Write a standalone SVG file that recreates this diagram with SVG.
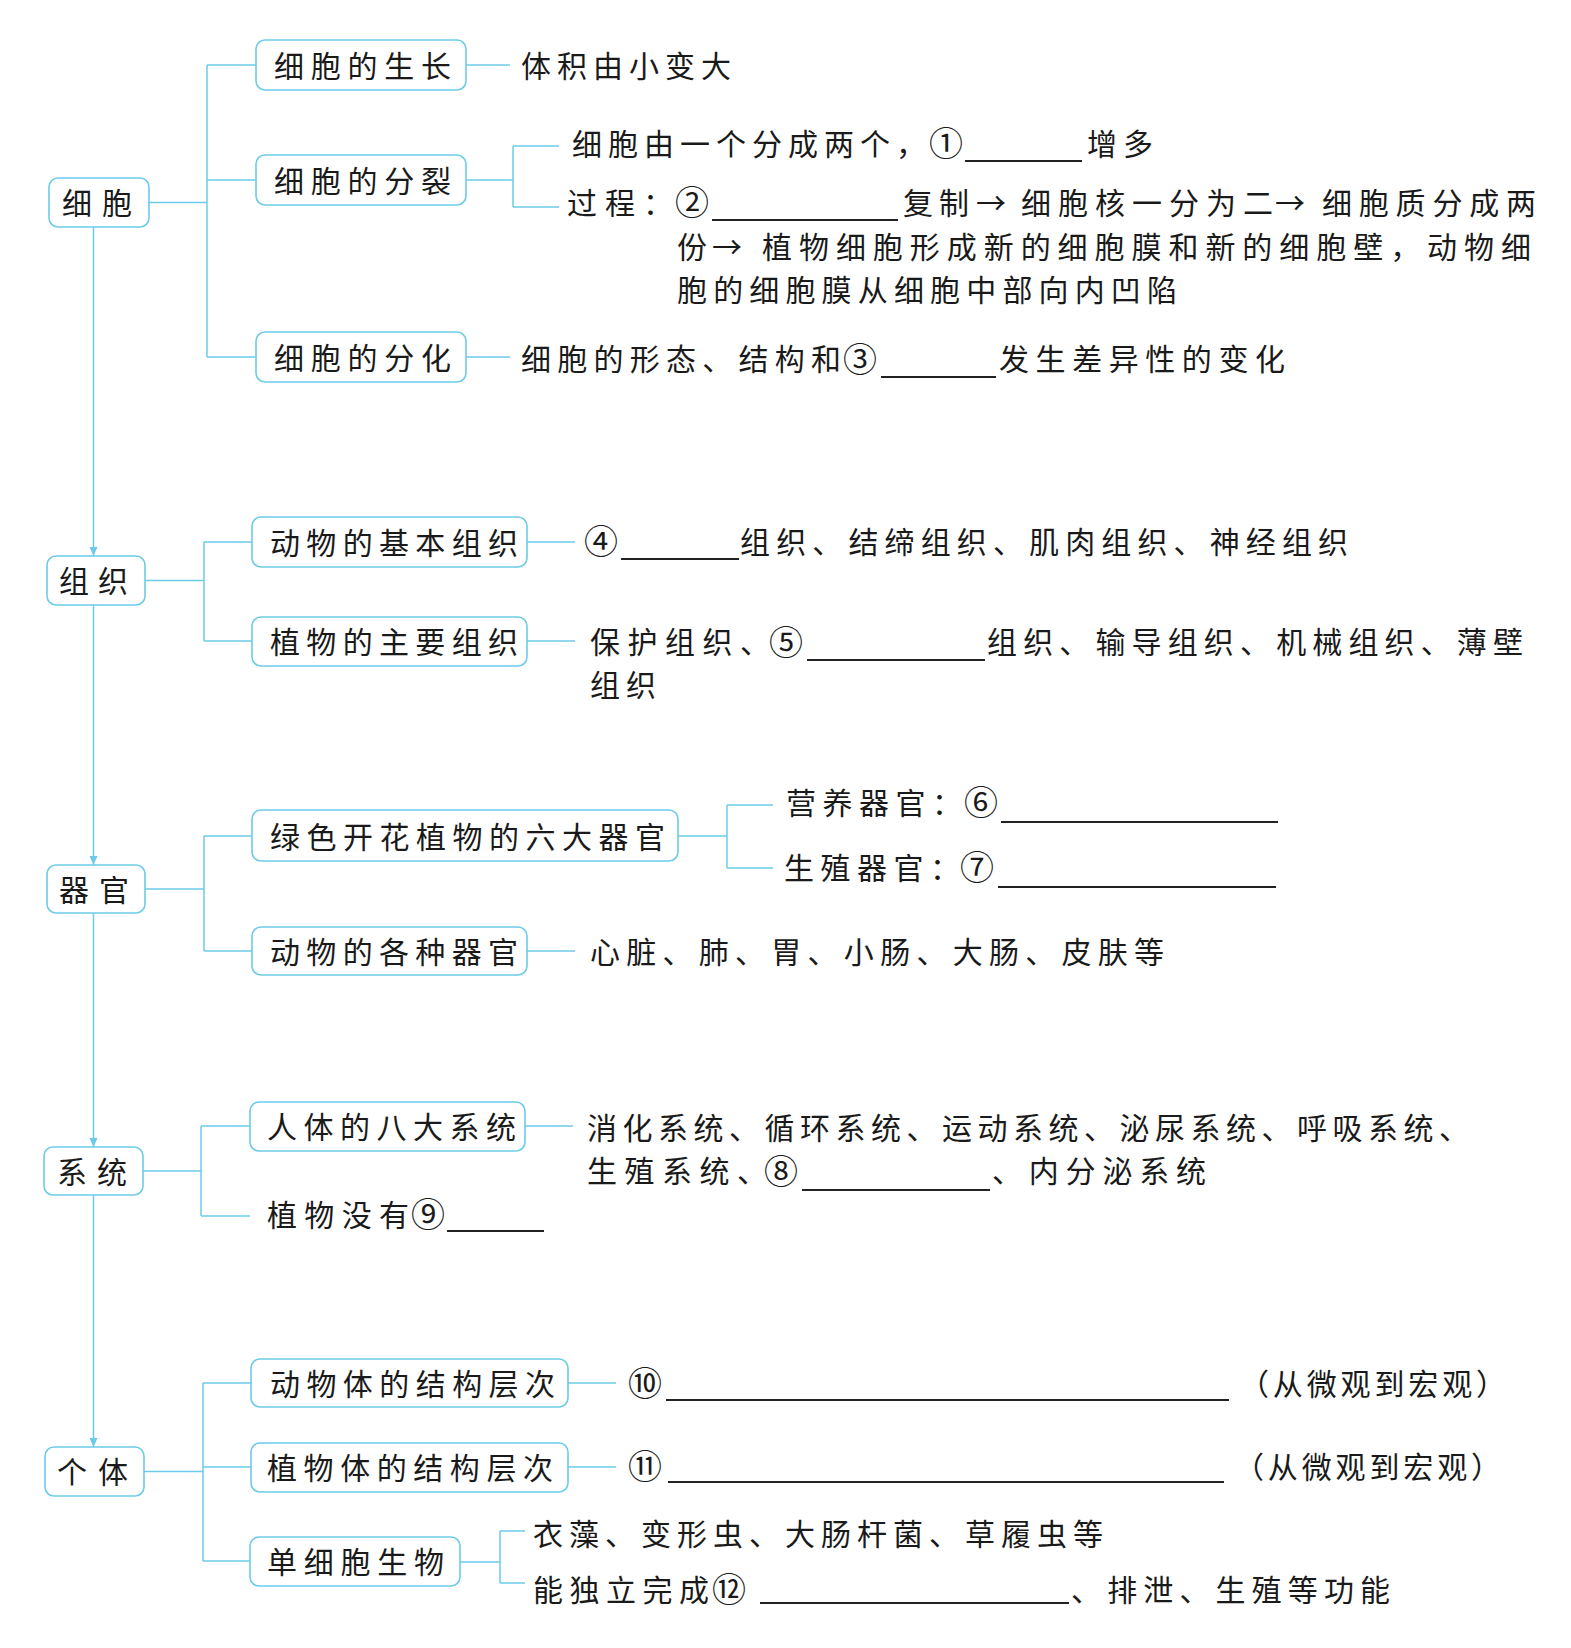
<svg xmlns="http://www.w3.org/2000/svg" width="1571" height="1648" viewBox="0 0 1571 1648">
<defs>
<style>
.box{fill:#fff;stroke:#6ccbe9;stroke-width:1.6}
.ln{fill:none;stroke:#6ccbe9;stroke-width:1.5}
.t{font-family:"Noto Sans CJK SC","Noto Sans CJK TC",sans-serif;font-size:30px;fill:#1a1a1a}
.c{font-size:34px}
.u{stroke:#222;stroke-width:1.8}
</style>
<marker id="arr" markerUnits="userSpaceOnUse" markerWidth="10" markerHeight="10" refX="9" refY="5" orient="auto">
<path d="M0,1 L9,5 L0,9 z" fill="#6ccbe9"/>
</marker>
</defs>
<rect width="1571" height="1648" fill="#fff"/>

<g id="connectors">
<line class="ln" x1="93.5" y1="227" x2="93.5" y2="556" marker-end="url(#arr)"/>
<line class="ln" x1="93.5" y1="605" x2="93.5" y2="865" marker-end="url(#arr)"/>
<line class="ln" x1="93.5" y1="913" x2="93.5" y2="1147" marker-end="url(#arr)"/>
<line class="ln" x1="93.5" y1="1195" x2="93.5" y2="1447" marker-end="url(#arr)"/>
<path class="ln" d="M149,202.5 H207 M207,65 V357 M207,65 H256 M207,180 H256 M207,357 H256"/>
<path class="ln" d="M466,65 H510"/>
<path class="ln" d="M466,180 H513 M513,146 V207 M513,146 H559 M513,207 H559"/>
<path class="ln" d="M466,357 H510"/>
<path class="ln" d="M145,580.5 H204 M204,542 V641 M204,542 H252 M204,641 H252"/>
<path class="ln" d="M527,542 H575"/>
<path class="ln" d="M527,641 H575"/>
<path class="ln" d="M145,889 H204 M204,836 V951 M204,836 H252 M204,951 H252"/>
<path class="ln" d="M678,836 H727 M727,805 V868 M727,805 H773 M727,868 H773"/>
<path class="ln" d="M527,951 H575"/>
<path class="ln" d="M143,1171 H201 M201,1126 V1216 M201,1126 H250 M201,1216 H250"/>
<path class="ln" d="M525,1126 H573"/>
<path class="ln" d="M144,1471.5 H203 M203,1383 V1561 M203,1383 H251 M203,1467 H251 M203,1561 H250"/>
<path class="ln" d="M568,1383 H616"/>
<path class="ln" d="M568,1467 H616"/>
<path class="ln" d="M460,1562 H500 M500,1531 V1583 M500,1531 H525 M500,1583 H525"/>
</g>

<g id="n-cell"><rect class="box" x="49" y="178" width="100" height="49" rx="9"/><text class="t" x="62" y="214" textLength="70">细胞</text></g>
<g id="n-tissue"><rect class="box" x="47" y="556" width="98" height="49" rx="9"/><text class="t" x="59" y="592" textLength="69">组织</text></g>
<g id="n-organ"><rect class="box" x="47" y="865" width="98" height="48" rx="9"/><text class="t" x="59" y="901" textLength="70">器官</text></g>
<g id="n-system"><rect class="box" x="44" y="1147" width="99" height="48" rx="9"/><text class="t" x="57" y="1183" textLength="70">系统</text></g>
<g id="n-individual"><rect class="box" x="45" y="1447" width="99" height="49" rx="9"/><text class="t" x="57" y="1483" textLength="71">个体</text></g>

<g id="n-growth"><rect class="box" x="256" y="40" width="210" height="50" rx="9"/><text class="t" x="274" y="76.5" textLength="177">细胞的生长</text></g>
<g id="n-division"><rect class="box" x="256" y="155" width="210" height="50" rx="9"/><text class="t" x="274" y="191.5" textLength="177">细胞的分裂</text></g>
<g id="n-differentiation"><rect class="box" x="256" y="332" width="210" height="50" rx="9"/><text class="t" x="274" y="368.5" textLength="177">细胞的分化</text></g>

<g id="l-growth"><text class="t" x="521" y="76.5" textLength="210">体积由小变大</text></g>
<g id="l-division-1">
<text class="t" x="572" y="154.5" textLength="354">细胞由一个分成两个，</text>
<text class="t c" x="929" y="156">①</text>
<line class="u" x1="965" y1="161" x2="1082" y2="161"/>
<text class="t" x="1087" y="154.5" textLength="66">增多</text>
</g>
<g id="l-division-2">
<text class="t" x="567" y="213.5" textLength="106">过程：</text>
<text class="t c" x="675" y="215">②</text>
<line class="u" x1="712" y1="220" x2="898" y2="220"/>
<text class="t" x="903" y="213.5" textLength="66">复制</text>
<text class="t" x="976" y="213.5">→</text>
<text class="t" x="1021" y="213.5" textLength="252">细胞核一分为二</text>
<text class="t" x="1275" y="213.5">→</text>
<text class="t" x="1322" y="213.5" textLength="214">细胞质分成两</text>
<text class="t" x="677" y="258" textLength="30">份</text>
<text class="t" x="712" y="258">→</text>
<text class="t" x="762" y="258" textLength="769">植物细胞形成新的细胞膜和新的细胞壁，动物细</text>
<text class="t" x="677" y="301" textLength="500">胞的细胞膜从细胞中部向内凹陷</text>
</g>
<g id="l-differentiation">
<text class="t" x="521" y="370" textLength="320">细胞的形态、结构和</text>
<text class="t c" x="843" y="371.5">③</text>
<line class="u" x1="881" y1="377" x2="996" y2="377"/>
<text class="t" x="999" y="370" textLength="286">发生差异性的变化</text>
</g>

<g id="n-animal-tissue"><rect class="box" x="252" y="517" width="275" height="50" rx="9"/><text class="t" x="270" y="553.5" textLength="248">动物的基本组织</text></g>
<g id="n-plant-tissue"><rect class="box" x="252" y="617" width="275" height="49" rx="9"/><text class="t" x="270" y="653" textLength="248">植物的主要组织</text></g>
<g id="l-animal-tissue">
<text class="t c" x="584" y="553.5">④</text>
<line class="u" x1="621" y1="559" x2="739" y2="559"/>
<text class="t" x="740" y="552.5" textLength="608">组织、结缔组织、肌肉组织、神经组织</text>
</g>
<g id="l-plant-tissue">
<text class="t" x="590" y="653" textLength="180">保护组织、</text>
<text class="t c" x="769" y="654.5">⑤</text>
<line class="u" x1="807" y1="660" x2="985" y2="660"/>
<text class="t" x="987" y="653" textLength="536">组织、输导组织、机械组织、薄壁</text>
<text class="t" x="590" y="696" textLength="66">组织</text>
</g>

<g id="n-plant-organ"><rect class="box" x="252" y="810" width="426" height="51" rx="9"/><text class="t" x="270" y="847.5" textLength="395">绿色开花植物的六大器官</text></g>
<g id="n-animal-organ"><rect class="box" x="252" y="927" width="275" height="48" rx="9"/><text class="t" x="270" y="962.5" textLength="248">动物的各种器官</text></g>
<g id="l-vegetative">
<text class="t" x="786" y="813.5" textLength="176">营养器官：</text>
<text class="t c" x="964" y="815">⑥</text>
<line class="u" x1="1001" y1="822" x2="1278" y2="822"/>
</g>
<g id="l-reproductive">
<text class="t" x="784" y="878.5" textLength="176">生殖器官：</text>
<text class="t c" x="960" y="880">⑦</text>
<line class="u" x1="998" y1="887" x2="1276" y2="887"/>
</g>
<g id="l-animal-organ"><text class="t" x="590" y="962.5" textLength="574">心脏、肺、胃、小肠、大肠、皮肤等</text></g>

<g id="n-human-system"><rect class="box" x="250" y="1102" width="275" height="49" rx="9"/><text class="t" x="267" y="1138" textLength="249">人体的八大系统</text></g>
<g id="l-human-system">
<text class="t" x="587" y="1139" textLength="882">消化系统、循环系统、运动系统、泌尿系统、呼吸系统、</text>
<text class="t" x="587" y="1182" textLength="180">生殖系统、</text>
<text class="t c" x="764" y="1183.5">⑧</text>
<line class="u" x1="802" y1="1190" x2="990" y2="1190"/>
<text class="t" x="992" y="1182" textLength="214">、内分泌系统</text>
</g>
<g id="l-plant-system">
<text class="t" x="267" y="1225.5" textLength="142">植物没有</text>
<text class="t c" x="411" y="1227">⑨</text>
<line class="u" x1="447" y1="1231" x2="544" y2="1231"/>
</g>

<g id="n-animal-level"><rect class="box" x="251" y="1359" width="317" height="48" rx="9"/><text class="t" x="270" y="1394.5" textLength="285">动物体的结构层次</text></g>
<g id="n-plant-level"><rect class="box" x="251" y="1443" width="317" height="49" rx="9"/><text class="t" x="267" y="1479" textLength="286">植物体的结构层次</text></g>
<g id="n-unicellular"><rect class="box" x="250" y="1537" width="210" height="49" rx="9"/><text class="t" x="267" y="1573" textLength="177">单细胞生物</text></g>
<g id="l-animal-level">
<text class="t c" x="628" y="1396">⑩</text>
<line class="u" x1="666" y1="1400" x2="1229" y2="1400"/>
<text class="t" x="1239" y="1394.5" textLength="267">（从微观到宏观）</text>
</g>
<g id="l-plant-level">
<text class="t c" x="628" y="1479">⑪</text>
<line class="u" x1="668" y1="1482" x2="1224" y2="1482"/>
<text class="t" x="1234" y="1477.5" textLength="267">（从微观到宏观）</text>
</g>
<g id="l-unicellular-1"><text class="t" x="533" y="1544.5" textLength="570">衣藻、变形虫、大肠杆菌、草履虫等</text></g>
<g id="l-unicellular-2">
<text class="t" x="533" y="1600.5" textLength="176">能独立完成</text>
<text class="t c" x="712" y="1602">⑫</text>
<line class="u" x1="760" y1="1603" x2="1069" y2="1603"/>
<text class="t" x="1071" y="1600.5" textLength="319">、排泄、生殖等功能</text>
</g>
</svg>
